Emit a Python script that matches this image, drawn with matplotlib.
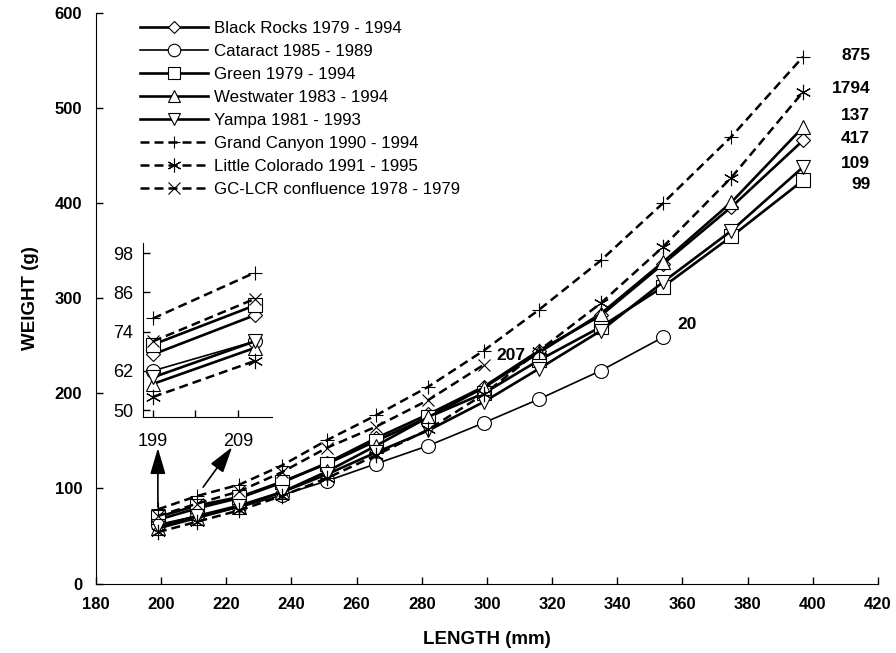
import matplotlib
matplotlib.use("Agg")
import matplotlib.pyplot as plt

plt.rcParams['font.family'] = ['Liberation Sans', 'DejaVu Sans']

# fish length classes (mm) and mean weights (g) per river reach
length = [199, 211, 224, 237, 251, 266, 282, 299, 316, 335, 354, 375, 397]

black_rocks = [67, 79, 90, 106, 127, 153, 178, 207, 245, 282, 336, 396, 466]
cataract = [62, 71, 80, 93, 108, 126, 145, 169, 194, 224, 259]
green = [70, 82, 91, 107, 126, 150, 175, 200, 235, 270, 312, 365, 424]
westwater = [58, 69, 81, 96, 118, 145, 175, 206, 243, 284, 338, 401, 480]
yampa = [60, 71, 82, 96, 115, 138, 161, 191, 226, 266, 317, 371, 438]
grand_canyon = [78, 92, 104, 124, 151, 177, 207, 245, 288, 340, 400, 470, 554]
little_colorado = [54, 65, 77, 92, 111, 135, 162, 199, 245, 295, 354, 427, 517]
gc_lcr = [71, 84, 97, 117, 143, 165, 193, 230]

labels = ["Black Rocks 1979 - 1994", "Cataract 1985 - 1989", "Green 1979 - 1994",
          "Westwater 1983 - 1994", "Yampa 1981 - 1993", "Grand Canyon 1990 - 1994",
          "Little Colorado 1991 - 1995", "GC-LCR confluence 1978 - 1979"]
sample_n = ["417", "20", "99", "137", "109", "875", "1794", "207"]

# where the sample sizes are written (data coords)
n_pos = [(417.6, 468), (361.5, 272), (417.6, 420), (417.6, 492), (417.6, 442),
         (417.6, 555), (417.6, 521), (307.4, 240)]
n_ha = ["right", "center", "right", "right", "right", "right", "right", "center"]

asterisk = (6, 2, 0)
styles = [
    dict(marker="D", ms=7, ls="-", lw=1.9),
    dict(marker="o", ms=10, ls="-", lw=1.2),
    dict(marker="s", ms=10, ls="-", lw=1.9),
    dict(marker="^", ms=10, ls="-", lw=1.9),
    dict(marker="v", ms=10, ls="-", lw=1.9),
    dict(marker="+", ms=10, ls=(0, (3.6, 2.0)), lw=1.8),
    dict(marker=asterisk, ms=11, ls=(0, (3.6, 2.0)), lw=1.8),
    dict(marker="x", ms=9, ls=(0, (3.6, 2.0)), lw=1.8),
]
data = [black_rocks, cataract, green, westwater, yampa, grand_canyon, little_colorado, gc_lcr]

fig = plt.figure(figsize=(8.96, 6.53), dpi=100)
ax = fig.add_axes([0.1071, 0.1064, 0.8728, 0.8736])

for y, lab, st in zip(data, labels, styles):
    ax.plot(length[:len(y)], y, color="black", mfc="white", mec="black", mew=0.8,
            label=lab, **st)

for txt, (px, py), ha in zip(sample_n, n_pos, n_ha):
    ax.text(px, py, txt, ha=ha, va="center", fontsize=12.5, fontweight="bold")

ax.set_xlim(180, 420)
ax.set_ylim(0, 600)
ax.set_xticks(range(180, 421, 20))
ax.set_yticks(range(0, 601, 100))
for s in ["top", "right"]:
    ax.spines[s].set_visible(False)
ax.tick_params(direction="in", length=5, width=1, labelsize=12, pad=10)
for t in ax.get_xticklabels() + ax.get_yticklabels():
    t.set_fontweight("bold")

ax.set_xlabel("LENGTH (mm)", fontsize=13.5, fontweight="bold", va="center")
ax.xaxis.set_label_coords(0.5, -0.0973)
ax.set_ylabel("WEIGHT (g)", fontsize=13.5, fontweight="bold", va="center")
ax.yaxis.set_label_coords(-0.084, 0.5)

ax.legend(loc="upper left", bbox_to_anchor=(0.0563, 0.986), frameon=False,
          fontsize=12.2, handlelength=4.0, labelspacing=0.47, handletextpad=0.35,
          borderpad=0, borderaxespad=0, markerscale=0.9)

# arrows from the first two length classes to the inset
ax.annotate("", xy=(199, 142.5), xytext=(199, 80.4),
            arrowprops=dict(arrowstyle="-|>,head_length=1.6,head_width=0.47",
                            color="black", lw=1.2, shrinkA=0, shrinkB=0))
ax.annotate("", xy=(221.8, 143.5), xytext=(212.9, 101.4),
            arrowprops=dict(arrowstyle="-|>,head_length=1.6,head_width=0.47",
                            color="black", lw=1.2, shrinkA=0, shrinkB=0))

# inset: close-up of the two smallest length classes
ins = fig.add_axes([0.1593, 0.361, 0.144, 0.2665])
for y, st in zip(data, styles):
    ins.plot(length[:2], y[:2], color="black", mfc="white", mec="black", mew=0.8, **st)
ins.set_xlim(197.8, 213)
ins.set_ylim(47.8, 101)
ins.set_xticks([199, 209])
ins.set_xticks([204], minor=True)
ins.set_yticks([50, 62, 74, 86, 98])
for s in ["top", "right"]:
    ins.spines[s].set_visible(False)
ins.tick_params(which="both", direction="in", length=5, width=1, labelsize=13)
ins.tick_params(axis="x", pad=11)
ins.tick_params(axis="y", pad=7)

fig.savefig("out.png", dpi=100)
